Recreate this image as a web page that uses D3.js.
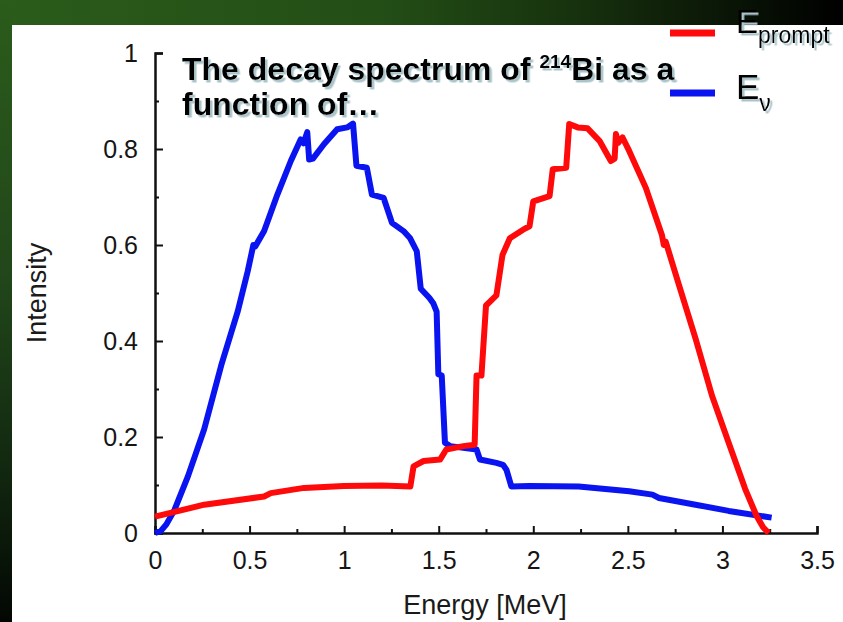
<!DOCTYPE html>
<html><head><meta charset="utf-8">
<script src="https://cdn.jsdelivr.net/npm/d3@7"></script>
<style>html,body{margin:0;padding:0;background:#fff;}svg{display:block;}</style>
</head><body>
<script>
// ---- data ----
const xTicks = [0, 0.5, 1, 1.5, 2, 2.5, 3, 3.5];
const yTicks = [0, 0.2, 0.4, 0.6, 0.8, 1];
const xLabel = "Energy [MeV]";
const yLabel = "Intensity";
const seriesNames = ["prompt", "ν"];
// E_nu (blue): [Energy MeV, Intensity]
const nuE = [0,0.03,0.06,0.103,0.174,0.26,0.35,0.437,0.49,0.52,0.53,0.577,0.647,0.718,0.77,0.785,0.805,0.815,0.835,0.893,0.963,1.016,1.047,1.065,1.12,1.147,1.209,1.253,1.314,1.349,1.384,1.405,1.45,1.472,1.489,1.498,1.516,1.533,1.56,1.70,1.718,1.805,1.84,1.858,1.884,1.98,2.24,2.507,2.63,2.665,2.858,3.033,3.26];
const nuI = [0,0.004,0.018,0.048,0.118,0.216,0.349,0.461,0.545,0.600,0.597,0.629,0.705,0.775,0.820,0.812,0.835,0.778,0.780,0.810,0.841,0.845,0.853,0.765,0.761,0.705,0.698,0.646,0.629,0.614,0.587,0.509,0.490,0.478,0.461,0.331,0.328,0.188,0.181,0.174,0.153,0.146,0.142,0.132,0.097,0.098,0.097,0.087,0.080,0.073,0.059,0.046,0.032];
// E_prompt (red)
const prE = [0,0.26,0.577,0.612,0.788,0.998,1.2,1.35,1.367,1.42,1.507,1.54,1.63,1.69,1.70,1.726,1.75,1.805,1.837,1.876,1.946,1.98,2.0,2.086,2.103,2.174,2.19,2.235,2.287,2.35,2.41,2.43,2.437,2.45,2.472,2.507,2.595,2.68,2.69,2.70,2.77,2.858,2.945,3.033,3.12,3.18,3.215,3.245];
const prI = [0.034,0.059,0.076,0.083,0.094,0.098,0.099,0.097,0.139,0.150,0.153,0.174,0.181,0.184,0.328,0.328,0.474,0.495,0.579,0.614,0.632,0.639,0.691,0.702,0.758,0.761,0.852,0.845,0.843,0.817,0.775,0.780,0.831,0.813,0.824,0.796,0.719,0.621,0.600,0.607,0.517,0.405,0.286,0.188,0.092,0.036,0.012,0];

const W = 843, H = 622;
const svg = d3.select("body").append("svg").attr("width", W).attr("height", H);

// background slide
const defs = svg.append("defs");
const gTop = defs.append("linearGradient").attr("id","gTop").attr("x1","0").attr("x2","1").attr("y1","0").attr("y2","0");
[[0,"#2b5c1b"],[0.45,"#234e16"],[0.68,"#17320e"],[0.85,"#0b1707"],[1,"#000"]].forEach(s=>gTop.append("stop").attr("offset",s[0]).attr("stop-color",s[1]));
const gLeft = defs.append("linearGradient").attr("id","gLeft").attr("x1","0").attr("x2","0").attr("y1","0").attr("y2","1");
[[0,"#2b5c1b"],[0.45,"#21461a"],[0.75,"#122810"],[1,"#030703"]].forEach(s=>gLeft.append("stop").attr("offset",s[0]).attr("stop-color",s[1]));
const sh = defs.append("filter").attr("id","shadow").attr("x","-10%").attr("y","-20%").attr("width","130%").attr("height","160%");
sh.append("feDropShadow").attr("dx",2.5).attr("dy",2.5).attr("stdDeviation",0.6).attr("flood-color","#aac4ca").attr("flood-opacity",1);

svg.append("rect").attr("x",0).attr("y",0).attr("width",W).attr("height",H).attr("fill","#fff");
svg.append("rect").attr("x",0).attr("y",0).attr("width",W).attr("height",25).attr("fill","url(#gTop)");
svg.append("rect").attr("x",0).attr("y",0).attr("width",12).attr("height",H).attr("fill","url(#gLeft)");

// scales
const x = d3.scaleLinear().domain([0,3.5]).range([155,817]);
const y = d3.scaleLinear().domain([0,1]).range([533,53]);

const font = "'Liberation Sans', Arial, sans-serif";

// minor ticks
svg.append("g").attr("transform",`translate(0,${y(0)})`)
  .call(d3.axisBottom(x).tickValues(d3.range(0.25,3.5,0.5)).tickSize(-4).tickFormat(""))
  .call(g=>g.select(".domain").remove())
  .call(g=>g.selectAll("line").attr("stroke","#111").attr("stroke-width",2));
svg.append("g").attr("transform",`translate(${x(0)},0)`)
  .call(d3.axisLeft(y).tickValues(d3.range(0.1,1,0.2)).tickSize(-4).tickFormat(""))
  .call(g=>g.select(".domain").remove())
  .call(g=>g.selectAll("line").attr("stroke","#111").attr("stroke-width",2));

// major axes
const xAxis = svg.append("g").attr("transform",`translate(0,${y(0)})`)
  .call(d3.axisBottom(x).tickValues(xTicks).tickSize(-7).tickSizeOuter(-7).tickPadding(18).tickFormat(d=>String(d)));
const yAxis = svg.append("g").attr("transform",`translate(${x(0)},0)`)
  .call(d3.axisLeft(y).tickValues(yTicks).tickSize(-8).tickSizeOuter(-8).tickPadding(17).tickFormat(d=>String(d)));
[xAxis,yAxis].forEach(a=>{
  a.select(".domain").attr("stroke","#111").attr("stroke-width",2.5);
  a.selectAll(".tick line").attr("stroke","#111").attr("stroke-width",2);
  a.selectAll(".tick text").attr("fill","#151515").style("font-family",font).style("font-size","25px");
});

// lines
const line = d3.line().x(d=>x(d[0])).y(d=>y(d[1]));
const redData = prE.map((e,i)=>[e,prI[i]]);
const blueData = nuE.map((e,i)=>[e,nuI[i]]);
svg.append("path").datum(blueData).attr("d",line).attr("fill","none").attr("stroke","#0a14f0").attr("stroke-width",6).attr("stroke-linejoin","round");
svg.append("path").datum(redData).attr("d",line).attr("fill","none").attr("stroke","#ff0a0a").attr("stroke-width",6).attr("stroke-linejoin","round");

// axis titles
svg.append("text").attr("transform","translate(46,293) rotate(-90)").attr("text-anchor","middle")
  .style("font-family",font).style("font-size","27px").attr("fill","#1a1a1a").text(yLabel);
svg.append("text").attr("x",485).attr("y",614).attr("text-anchor","middle")
  .style("font-family",font).style("font-size","27px").attr("fill","#1a1a1a").text(xLabel);

// title with shadow
const t = svg.append("text").style("font-family",font).style("font-size","32px").style("font-weight","bold").attr("fill","#000").attr("filter","url(#shadow)");
const l1 = t.append("tspan").attr("x",182).attr("y",80);
l1.append("tspan").text("The decay spectrum of ");
l1.append("tspan").attr("dy",-12).style("font-size","19px").text("214");
l1.append("tspan").attr("dy",12).text("Bi as a");
t.append("tspan").attr("x",182).attr("y",115).text("function of…");

// legend
const legendY = [33,93];
const legendColors = ["#ff0a0a","#0a14f0"];
legendY.forEach((ly,i)=>{
  svg.append("line").attr("x1",670).attr("x2",715).attr("y1",ly).attr("y2",ly).attr("stroke",legendColors[i]).attr("stroke-width",7);
});
const a = svg.append("text").attr("x",736).attr("y",33).style("font-family",font).style("font-size","33px").attr("fill","#000").attr("filter","url(#shadow)");
a.append("tspan").text("E");
a.append("tspan").attr("dy",10).style("font-size","23px").text(seriesNames[0]);
const b = svg.append("text").attr("x",736).attr("y",99).style("font-family",font).style("font-size","35px").attr("fill","#000").attr("filter","url(#shadow)");
b.append("tspan").text("E");
b.append("tspan").attr("dy",12).style("font-size","23px").text(seriesNames[1]);
</script>
</body></html>
